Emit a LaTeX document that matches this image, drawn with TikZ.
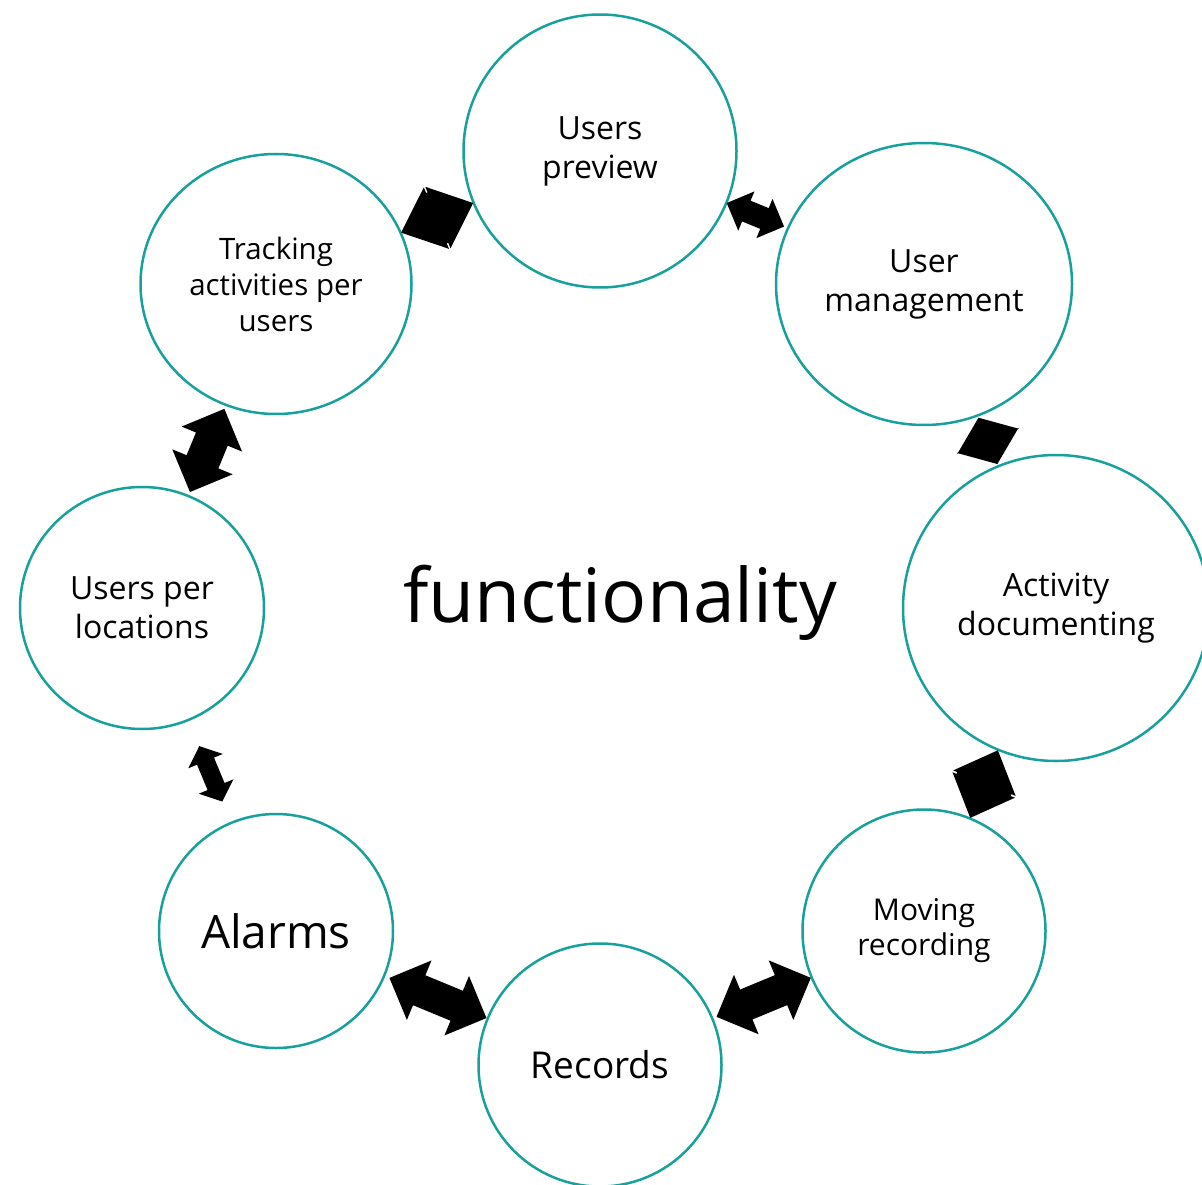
\documentclass[tikz,border=0pt]{standalone}
\usepackage{fontspec}
\setmainfont{Open Sans}
\usetikzlibrary{shapes.geometric,shapes.arrows}
\definecolor{ring}{RGB}{24,160,156}
\newcommand\fsz[2]{\fontsize{#1}{#2}\selectfont}
\tikzstyle{item} = [draw=ring,line width=2.5pt,ellipse,inner sep=0pt,align=center,font=\fsz{32}{39}]
\tikzstyle{link} = [double arrow,fill=black,draw=none,sloped,inner xsep=0pt,pos=0.5]
\tikzstyle{tip} = [double arrow tip angle=#1]

\begin{document}
\begin{tikzpicture}[x=1pt,y=-1pt]
\useasboundingbox (0,0) rectangle (1202,1185);
\clip (0,0) rectangle (1202,1185);

\node[item,minimum width=273pt,minimum height=273pt] (up) at (600,151) {Users\\preview};
\node[item,minimum width=296pt,minimum height=282pt] (um) at (924,284) {User\\management};
\node[item,minimum width=306pt,minimum height=306pt] (ad) at (1056,608) {Activity\\documenting};
\node[item,minimum width=243pt,minimum height=243pt,font=\fsz{30}{35}] (mr) at (924,931) {Moving\\recording};
\node[item,minimum width=243pt,minimum height=243pt,font=\fsz{37}{44}] (rec) at (600,1065) {Records};
\node[item,minimum width=234pt,minimum height=234pt,font=\fsz{46}{52}] (al) at (276,931) {Alarms};
\node[item,minimum width=244pt,minimum height=242pt] (ul) at (142,608) {Users per\\locations};
\node[item,minimum width=271pt,minimum height=260pt,font=\fsz{29.5}{36}] (ta) at (276,284) {Tracking\\activities per\\users};

\node (fn) at (620,603) {\fsz{75}{80}functionality};

\path (ta) -- node[link,tip=82,minimum height=78pt,minimum width=66pt,inner ysep=27pt,double arrow head extend=6pt] {} (up);
\path (up) -- node[link,tip=90,pos=0.47,minimum height=62pt,minimum width=42pt,inner ysep=11pt,double arrow head extend=10pt] {} (um);
\path (um) -- node[link,tip=105,minimum height=50pt,minimum width=66pt,inner ysep=30pt,double arrow head extend=3pt] {} (ad);
\path (ad) -- node[link,tip=87,minimum height=73pt,minimum width=67pt,inner ysep=29pt,double arrow head extend=4.5pt] {} (mr);
\path (mr) -- node[link,tip=90,pos=0.483,minimum height=102pt,minimum width=64pt,inner ysep=16pt,double arrow head extend=16pt] {} (rec);
\path (rec) -- node[link,tip=90,pos=0.48,minimum height=105pt,minimum width=64pt,inner ysep=16pt,double arrow head extend=16pt] {} (al);
\path (ul) -- node[link,tip=90,minimum height=90pt,minimum width=65pt,inner ysep=17pt,double arrow head extend=15.5pt] {} (ta);
\path (al) -- node[link,tip=98,pos=0.476,minimum height=60pt,minimum width=37pt,inner ysep=9pt,double arrow head extend=9.5pt] {} (ul);

\end{tikzpicture}
\end{document}
